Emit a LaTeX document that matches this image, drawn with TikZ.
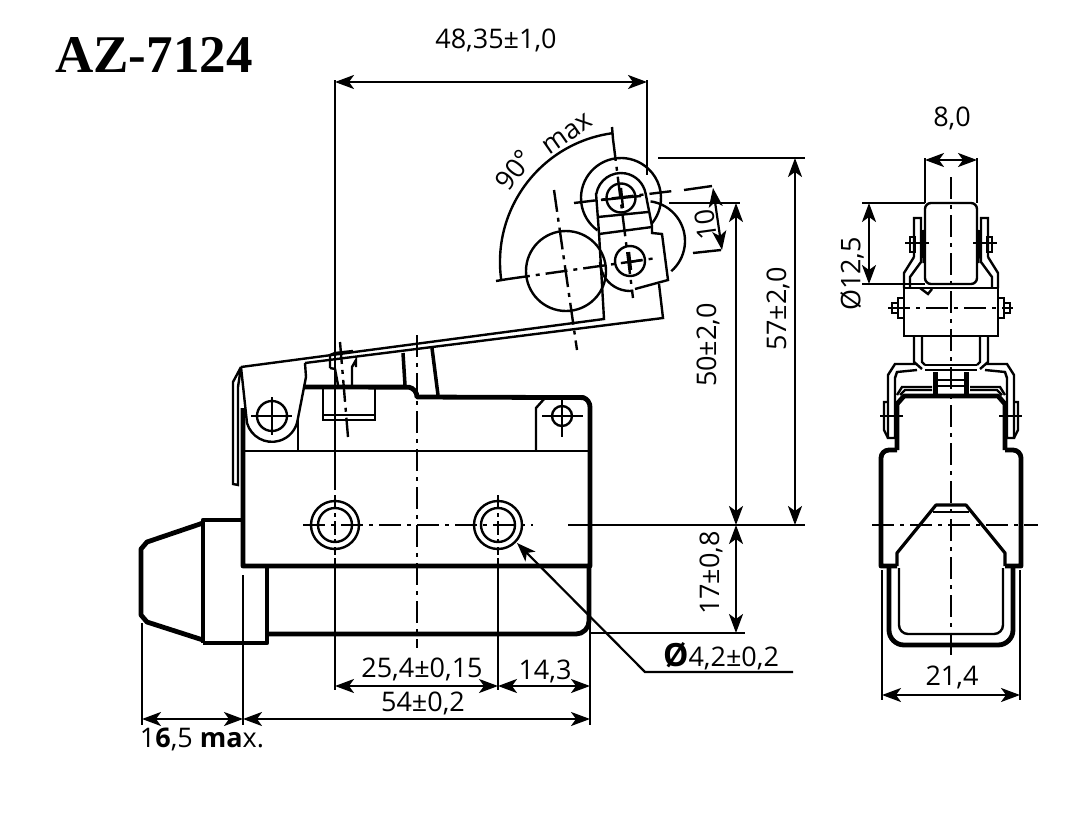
\documentclass[tikz,border=0pt]{standalone}
\usepackage{fontspec}
\setmainfont{Open Sans}
\newfontfamily\titlefont{Liberation Serif}
\usetikzlibrary{arrows.meta}
\tikzset{
    thinl/.style={line width=2.4pt},
    medl/.style={line width=3.2pt},
    thickl/.style={line width=4.8pt,line join=round},
    centerl/.style={line width=2.4pt,dash pattern=on 22pt off 6pt on 4pt off 6pt},
    holeaxis/.style={line width=2.4pt,dash pattern=on 14pt off 4pt on 4pt off 4pt},
    dimline/.style={line width=2.2pt,{Stealth[length=19pt,width=14pt,inset=5pt]}-{Stealth[length=19pt,width=14pt,inset=5pt]}},
    leader/.style={line width=2.2pt,{Stealth[length=19pt,width=14pt,inset=5pt]}-},
    lbl/.style={font=\fontsize{27}{30}\selectfont,inner sep=0pt},
    every node/.style={inner sep=0pt}}
\begin{document}
\begin{tikzpicture}[x=1pt,y=-1pt]
        \useasboundingbox (0,0) rectangle (1088,828);
        \node[font=\titlefont\bfseries\fontsize{53}{60}\selectfont] (title) at (154,55) {AZ-7124};

        \draw[thickl] (243,408) -- (243,566) -- (590,566) -- (590,407) arc[start angle=0,end angle=-70,radius=10] -- (417,397) arc[start angle=0,end angle=-80,radius=10] -- (303,387);
        \draw[thinl] (243,451) -- (590,451);
        \draw[thickl] (267,568) -- (267,643) -- (203,643);
        \draw[thickl] (267,634) -- (576,634) arc[start angle=90,end angle=0,radius=13] -- (589,568);
        \draw[thickl] (243,520) -- (203,520) -- (203,643);
        \draw[thickl] (203,523) -- (147,542) -- (141,549) -- (141,615) -- (147,622) -- (203,640);

        \draw[thinl] (323,388) -- (323,420) -- (375,420) -- (375,388);
        \draw[thinl] (323,415) -- (375,415);
        \draw[thinl] (298,420) -- (298,451);
        \draw[thinl] (536,451) -- (536,408) -- (545,398);
        \draw[thinl] (241,367) -- (233,382) -- (233,484) -- (238,485) -- (238,387) -- (241,367);
        \draw[thinl] (241,367) -- (247,423) arc[start angle=164,end angle=8,radius=26] -- (306,377) -- (305,363);
        \draw[thickl,line width=3.5pt] (403,353) -- (405,385);
        \draw[thickl,line width=3.5pt] (432,348) -- (438,395);
        \draw[thinl] (330,368) -- (330,355) -- (335,353) -- (353,351);
        \draw[thinl] (330,368) -- (335,369) -- (338,385);
        \draw[thinl] (352,385) -- (352,367) -- (356,360) -- (356,367);

        \draw[thinl] (241,367) -- (604,319) -- (599,233) -- (596,193);
        \draw[thinl] (305,363) -- (663,318) -- (659,284);
        \draw[thinl] ([shift={(190:25)}]621,198) arc[start angle=190,end angle=350,radius=25] -- (652,226) -- (652,233) -- (662,234) -- (668,280) -- (635,289);
        \draw[thinl] (598,217) -- (648,212);
        \draw[thinl] (599,234) -- (652,227);
        \draw[thinl] ([shift={(126:40)}]621,198) arc[start angle=126,end angle=400,radius=40];
        \draw[thinl] ([shift={(-82:40)}]645,241) arc[start angle=-82,end angle=49,radius=40];
        \draw[thinl] ([shift={(84:30)}]630,261) arc[start angle=84,end angle=178,radius=30];
        \draw[thinl] (566,271) circle (40);
        \draw[thinl] (621,198) circle (14.5);
        \draw[thinl] (630,261) circle (15);
        \draw[thinl] ([shift={(172:130)}]630,262) arc[start angle=172,end angle=262,radius=130];
        \draw[thinl] (496,281) -- (508,279);
        \draw[thinl] (612,127) -- (613,139);
        \draw[centerl] (613,139) -- (633,298);
        \draw[centerl] (508,279) -- (657,258);
        \draw[centerl] (554,190) -- (577,350);
        \draw[centerl] (574,203) -- (673,191);
        \draw[thinl] (601,200) -- (641,196);
        \draw[thinl] (621,188) -- (623,208);
        \draw[thinl] (629,252) -- (631,270);
        \draw[thinl] (630,262) -- (642,260);

        \node[lbl,rotate=52] (ang) at (514,170) {90°};
        \node[lbl,rotate=35] (angmax) at (568,134) {max};

        \foreach \hx in {335,498} {
            \draw[thinl] (\hx,525) circle (24);
            \draw[thinl] (\hx,525) circle (17);
            \draw[holeaxis] (\hx,495) -- (\hx,555);
        }
        \draw[thinl] (272,416) circle (15);
        \draw[thinl] (251,416) -- (292,416);
        \draw[thinl] (272,397) -- (272,435);
        \draw[thinl] (562,416) circle (10);
        \draw[thinl] (542,416) -- (583,416);
        \draw[thinl] (562,400) -- (562,437);

        \draw[centerl] (303,525) -- (533,525);
        \draw[thinl] (568,525) -- (805,525);
        \draw[centerl] (417,335) -- (417,648);
        \draw[centerl] (340,342) -- (348,437);

        \draw[thinl] (335,80) -- (335,490);
        \draw[thinl] (335,558) -- (335,690);
        \draw[thinl] (498,558) -- (498,690);
        \draw[thinl] (647,80) -- (647,175);
        \draw[thinl] (590,570) -- (590,725);
        \draw[thinl] (243,575) -- (243,725);
        \draw[thinl] (142,623) -- (142,725);
        \draw[thinl] (658,158) -- (805,158);
        \draw[thinl] (669,203) -- (740,203);
        \draw[thinl] (590,633) -- (745,633);
        \draw[thinl] (684,190) -- (712,186);
        \draw[thinl] (693,253) -- (721,250);

        \coordinate (d1) at (335,82);
        \coordinate (d2) at (647,82);
        \draw[dimline] (d1) -- (d2);
        \node[lbl] (l48) at (496,40) {48,35±1,0};
        \draw[dimline] (795,158) -- (795,525);
        \node[lbl,rotate=90] (l57) at (778,309) {57±2,0};
        \draw[dimline] (736,203) -- (736,525);
        \node[lbl,rotate=90] (l50) at (708,345) {50±2,0};
        \draw[dimline] (736,525) -- (736,633);
        \node[lbl,rotate=90] (l17) at (711,573) {17±0,8};
        \draw[dimline] (713,188) -- (722,250);
        \node[lbl,rotate=98] (l10) at (706,225) {10};
        \draw[leader] (517,543) -- (645,672) -- (793,672);
        \node[lbl] (lhole) at (721,656) {{\fontsize{32}{30}\selectfont\bfseries Ø}4,2±0,2};
        \draw[dimline] (335,686) -- (498,686);
        \node[lbl] (l25) at (422,669) {25,4±0,15};
        \draw[dimline] (498,686) -- (590,686);
        \node[lbl] (l14) at (545,671) {14,3};
        \draw[dimline] (243,719) -- (590,719);
        \node[lbl] (l54) at (423,703) {54±0,2};
        \draw[dimline] (142,719) -- (243,719);
        \node[lbl] (l16) at (202,739) {1\textbf{6},5 \textbf{ma}x.};

        \draw[thinl,line join=round] (931,203) -- (971,203) arc[start angle=-90,end angle=0,radius=6] -- (977,278) arc[start angle=0,end angle=90,radius=6] -- (931,284) arc[start angle=90,end angle=180,radius=6] -- (925,209) arc[start angle=180,end angle=270,radius=6];
        \draw[thinl] (904,288) rectangle (998,336);
        \draw[thinl] (920,288) -- (928,294) -- (932,289);
        \draw[thinl] (925,365) -- (977,365);
        \draw[thinl] (925,370) -- (977,370);
        \draw[thinl] (937,380) -- (965,380);
        \draw[thinl] (937,386) -- (965,386);
        \draw[thickl] (897,450) -- (897,404) -- (904,396) -- (998,396) -- (1005,404) -- (1005,450);

        \foreach \s in {-1,1} {
            \begin{scope}[shift={(951,0)},xscale=\s]
                \draw[thinl] (37,257) -- (37,218) -- (30,218) -- (30,262) -- (41,277) -- (41,288);
                \draw[thinl] (37,257) -- (47,273) -- (47,288);
                \draw[medl] (28,230) -- (27,263);
                \draw[thinl] (36,237) rectangle (41,252);
                \draw[thinl] (22,243) -- (46,243);
                \draw[thinl] (47,298) -- (53,298) -- (53,318) -- (47,318);
                \draw[thinl] (53,303) -- (59,303) -- (59,313) -- (53,313);
                \draw[thinl] (37,336) -- (37,362) -- (29,369);
                \draw[thinl] (29,336) -- (29,362) -- (26,365);
                \draw[thinl] (34,364) -- (56,364) -- (63,375) -- (63,438) -- (56,438) -- (56,378) -- (54,372) -- (34,370);
                \draw[medl] (16,372) -- (16,395);
                \draw[thinl] (14,372) -- (14,395);
                \draw[thinl] (54,395) -- (49,387) -- (19,387);
                \draw[thinl] (51,395) -- (46,390) -- (19,390);
                \draw[thinl] (63,402) -- (67,402) -- (67,430) -- (63,438);
                \draw[thinl] (48,416) -- (71,416);
                \draw[thickl] (54,450) -- (62,450) arc[start angle=-90,end angle=0,radius=8] -- (70,566) -- (54,566);
                \draw[thickl] (62,566) -- (62,630) arc[start angle=0,end angle=90,radius=15] -- (0,645);
                \draw[thinl] (52,568) -- (52,625) arc[start angle=0,end angle=90,radius=9] -- (0,634);
                \draw[medl,line join=round] (54,566) -- (54,553) -- (15,505) -- (0,505);
                \draw[thinl] (18,512) -- (0,512);
                \draw[thinl] (69,570) -- (69,700);
            \end{scope}
        }

        \draw[centerl] (951,177) -- (951,660);
        \draw[centerl] (888,308) -- (1013,308);
        \draw[centerl] (872,525) -- (1038,525);

        \draw[thinl] (925,158) -- (925,203);
        \draw[thinl] (977,158) -- (977,203);
        \draw[dimline] (925,160) -- (977,160);
        \node[lbl] (l8) at (952,118) {8,0};
        \draw[thinl] (862,203) -- (925,203);
        \draw[thinl] (862,284) -- (925,284);
        \draw[dimline] (869,203) -- (869,284);
        \node[lbl,rotate=90] (l12) at (852,274) {Ø12,5};
        \draw[dimline] (882,695) -- (1020,695);
        \node[lbl] (l21) at (952,677) {21,4};
\end{tikzpicture}
\end{document}
